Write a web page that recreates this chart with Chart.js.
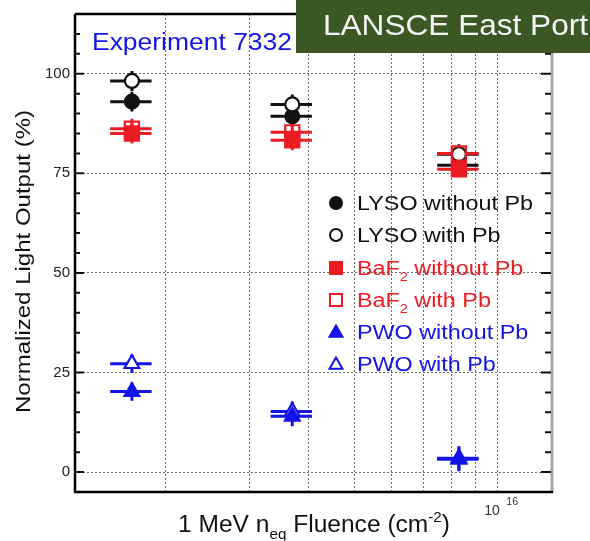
<!DOCTYPE html>
<html>
<head>
<meta charset="utf-8">
<script src="https://cdn.jsdelivr.net/npm/chart.js@4/dist/chart.umd.min.js"></script>
<style>
  html, body { margin: 0; padding: 0; background: #fff; }
  canvas { display: block; }
</style>
</head>
<body>
<canvas id="grafico" width="590" height="541"></canvas>
<script>
// fluence of the three irradiation steps (1 MeV neq / cm2) and their spread
const fluence = [1.7e15, 3.7e15, 8.3e15];
const fluenceErr = [0.17e15, 0.37e15, 0.83e15];

// normalized light output (%) per crystal
const lysoNoPb = [93, 89.3, 77];
const lysoPb = [98.2, 92.3, 79.8];
const baf2NoPb = [85, 83.3, 76];
const baf2Pb = [86.2, 85.3, 80];
const pwoNoPb = [20.2, 14, 3.2];
const pwoPb = [27.2, 15.2, 3.5];

// vertical error of each point
const lysoNoPbErr = [2.5, 2.5, 2.5];
const lysoPbErr = [2.5, 2.5, 2.5];
const baf2NoPbErr = [2.5, 2.5, 2];
const baf2PbErr = [2.5, 2.5, 2];
const pwoNoPbErr = [2.3, 2.5, 3];
const pwoPbErr = [2.3, 2.5, 3];

// axis ticks
const fluenceGrid = [2e15, 3e15, 4e15, 5e15, 6e15, 7e15, 8e15, 9e15, 1e16];
const outputLabels = [0, 25, 50, 75, 100];

const BLACK = '#111111';
const RED = '#ec1c24';
const BLUE = '#1414e6';

// order: higher value is painted first (underneath)
const series = [
  { label: 'LYSO without Pb', name: [['LYSO without Pb', 0]], values: lysoNoPb, err: lysoNoPbErr, color: BLACK, style: 'circle', fill: BLACK, order: 6 },
  { label: 'LYSO with Pb', name: [['LYSO with Pb', 0]], values: lysoPb, err: lysoPbErr, color: BLACK, style: 'circle', fill: '#fff', order: 5 },
  { label: 'BaF2 without Pb', name: [['BaF', 0], ['2', -1], [' without Pb', 0]], values: baf2NoPb, err: baf2NoPbErr, color: RED, style: 'rect', fill: RED, order: 3 },
  { label: 'BaF2 with Pb', name: [['BaF', 0], ['2', -1], [' with Pb', 0]], values: baf2Pb, err: baf2PbErr, color: RED, style: 'rect', fill: 'rgba(255,255,255,0)', order: 4 },
  { label: 'PWO without Pb', name: [['PWO without Pb', 0]], values: pwoNoPb, err: pwoNoPbErr, color: BLUE, style: 'triangle', fill: BLUE, order: 1 },
  { label: 'PWO with Pb', name: [['PWO with Pb', 0]], values: pwoPb, err: pwoPbErr, color: BLUE, style: 'triangle', fill: '#fff', order: 2 }
];

const markerSize = { circle: 7, rect: 10, triangle: 8.5 };

function fontOf(px) {
  return px + 'px "Liberation Sans", Arial, sans-serif';
}

// width of a run of text pieces; shift -1 = subscript, 1 = superscript
function measureParts(ctx, parts, size) {
  let w = 0;
  parts.forEach(([t, shift]) => {
    ctx.font = fontOf(shift ? size * 0.62 : size);
    w += ctx.measureText(t).width;
  });
  return w;
}

function writeParts(ctx, parts, x, y, size, color, stretch) {
  ctx.save();
  ctx.translate(x, y);
  ctx.scale(stretch || 1, 1);
  ctx.fillStyle = color;
  ctx.textAlign = 'left';
  ctx.textBaseline = 'alphabetic';
  let cx = 0;
  parts.forEach(([t, shift]) => {
    ctx.font = fontOf(shift ? size * 0.62 : size);
    const dy = shift < 0 ? size * 0.32 : shift > 0 ? -size * 0.42 : 0;
    ctx.fillText(t, cx, dy);
    cx += ctx.measureText(t).width;
  });
  ctx.restore();
}

// fit the text between two x positions
function writeFit(ctx, parts, x0, x1, y, size, color) {
  const w = measureParts(ctx, parts, size);
  writeParts(ctx, parts, x0, y, size, color, (x1 - x0) / w);
}

// all error bars go under all markers, in the same stacking order
const errorBars = {
  id: 'errorBars',
  beforeDatasetsDraw(chart) {
    const ctx = chart.ctx;
    const xs = chart.scales.x, ys = chart.scales.y;
    const list = chart.data.datasets.slice().sort((a, b) => b.order - a.order);
    ctx.save();
    ctx.lineWidth = 3;
    list.forEach(ds => {
      ctx.strokeStyle = ds.borderColor;
      ds.data.forEach((p, i) => {
        const px = xs.getPixelForValue(p.x);
        const py = ys.getPixelForValue(p.y);
        const xl = xs.getPixelForValue(p.x - fluenceErr[i]);
        const xr = xs.getPixelForValue(p.x + fluenceErr[i]);
        const yt = ys.getPixelForValue(p.y + ds.yErr[i]);
        const yb = ys.getPixelForValue(p.y - ds.yErr[i]);
        ctx.beginPath();
        ctx.moveTo(xl, py); ctx.lineTo(xr, py);
        ctx.moveTo(px, yt); ctx.lineTo(px, yb);
        ctx.stroke();
      });
    });
    ctx.restore();
  }
};

const frame = {
  id: 'frame',
  afterDraw(chart) {
    const ctx = chart.ctx;
    const a = chart.chartArea;
    const ys = chart.scales.y;
    const xs = chart.scales.x;

    // axes box
    ctx.save();
    ctx.strokeStyle = '#a8a8a8';
    ctx.lineWidth = 3;
    ctx.beginPath();
    ctx.moveTo(a.right - 1, a.top); ctx.lineTo(a.right - 1, a.bottom);
    ctx.stroke();
    ctx.strokeStyle = '#000';
    ctx.lineWidth = 2.5;
    ctx.beginPath();
    ctx.moveTo(a.left, a.top); ctx.lineTo(a.right, a.top);
    ctx.moveTo(a.left, a.top); ctx.lineTo(a.left, a.bottom);
    ctx.lineTo(a.right, a.bottom);
    ctx.stroke();

    // inner tick marks on both vertical axes
    ctx.lineWidth = 2;
    ctx.strokeStyle = '#111';
    for (let v = 0; v <= 110; v += 5) {
      const y = ys.getPixelForValue(v);
      const major = v % 25 === 0;
      ctx.beginPath();
      ctx.moveTo(a.left, y); ctx.lineTo(a.left + (major ? 9 : 5), y);
      ctx.moveTo(a.right - 2, y); ctx.lineTo(a.right - (major ? 12 : 8), y);
      ctx.stroke();
    }
    ctx.restore();

    // decade label under the 1e16 line
    const x16 = xs.getPixelForValue(1e16);
    writeParts(ctx, [['10', 0]], x16 - 13, 515, 14, '#333', 1);
    writeParts(ctx, [['16', 0]], x16 + 9, 505, 10.5, '#333', 1);

    // axis titles
    writeFit(ctx, [['1 MeV n', 0], ['eq', -1], [' Fluence (cm', 0], ['-2', 1], [')', 0]], 178, 450, 532, 23, '#111');
    ctx.save();
    ctx.translate(30, 413);
    ctx.rotate(-Math.PI / 2);
    writeFit(ctx, [['Normalized Light Output (%)', 0]], 0, 303, 0, 21, '#111');
    ctx.restore();

    // legend inside the plot
    const rowY = [203, 235, 268, 300, 332, 364];
    const stretch = 176 / measureParts(ctx, series[0].name, 19.5);
    series.forEach((s, i) => {
      ctx.save();
      ctx.fillStyle = s.fill === s.color ? s.color : '#fff';
      ctx.strokeStyle = s.color;
      ctx.lineWidth = 2;
      Chart.helpers.drawPoint(ctx, {
        pointStyle: s.style,
        radius: s.style === 'rect' ? 8.5 : s.style === 'triangle' ? 7.5 : 6,
        rotation: 0,
        borderWidth: 2
      }, 336, rowY[i] + (s.style === 'triangle' ? 1 : 0));
      ctx.restore();
      writeParts(ctx, s.name, 357, rowY[i] + 7, 19.5, s.color, stretch);
    });

    // heading and facility tag
    writeFit(ctx, [['Experiment 7332', 0]], 92, 292, 50, 23.5, BLUE);
    ctx.fillStyle = '#3b5724';
    ctx.fillRect(296, 0, 294, 53);
    writeFit(ctx, [['LANSCE East Port', 0]], 323, 588, 35, 29, '#f4f4f4');
  }
};

const datasets = series.map(s => ({
  label: s.label,
  data: fluence.map((f, i) => ({ x: f, y: s.values[i] })),
  yErr: s.err,
  order: s.order,
  pointStyle: s.style,
  pointRadius: markerSize[s.style],
  pointHoverRadius: markerSize[s.style],
  pointBorderWidth: 2.2,
  borderColor: s.color,
  backgroundColor: s.fill
}));

new Chart(document.getElementById('grafico'), {
  type: 'scatter',
  data: { datasets },
  options: {
    responsive: false,
    animation: false,
    devicePixelRatio: 1,
    layout: { padding: { top: 11, right: 37, left: 0, bottom: 0 } },
    plugins: { legend: { display: false }, tooltip: { enabled: false } },
    events: [],
    scales: {
      x: {
        type: 'logarithmic',
        min: 1.29e15,
        max: 1.31e16,
        afterBuildTicks: s => { s.ticks = fluenceGrid.map(v => ({ value: v })); },
        afterFit: s => { s.height = 49; },
        ticks: { display: false },
        grid: { drawTicks: false, color: '#6a6a6a', lineWidth: 1 },
        border: { display: false, dash: [2, 2] }
      },
      y: {
        min: -5,
        max: 115,
        afterFit: s => { s.width = 75; },
        ticks: {
          stepSize: 5,
          autoSkip: false,
          padding: 5,
          color: '#222',
          font: { family: '"Liberation Sans", Arial, sans-serif', size: 15 },
          callback: v => outputLabels.includes(v) ? String(v) : ''
        },
        grid: {
          drawTicks: false,
          lineWidth: 1,
          color: c => (c.tick && outputLabels.includes(c.tick.value)) ? '#6a6a6a' : 'rgba(0,0,0,0)'
        },
        border: { display: false, dash: [2, 2] }
      }
    }
  },
  plugins: [errorBars, frame]
});
</script>
</body>
</html>
